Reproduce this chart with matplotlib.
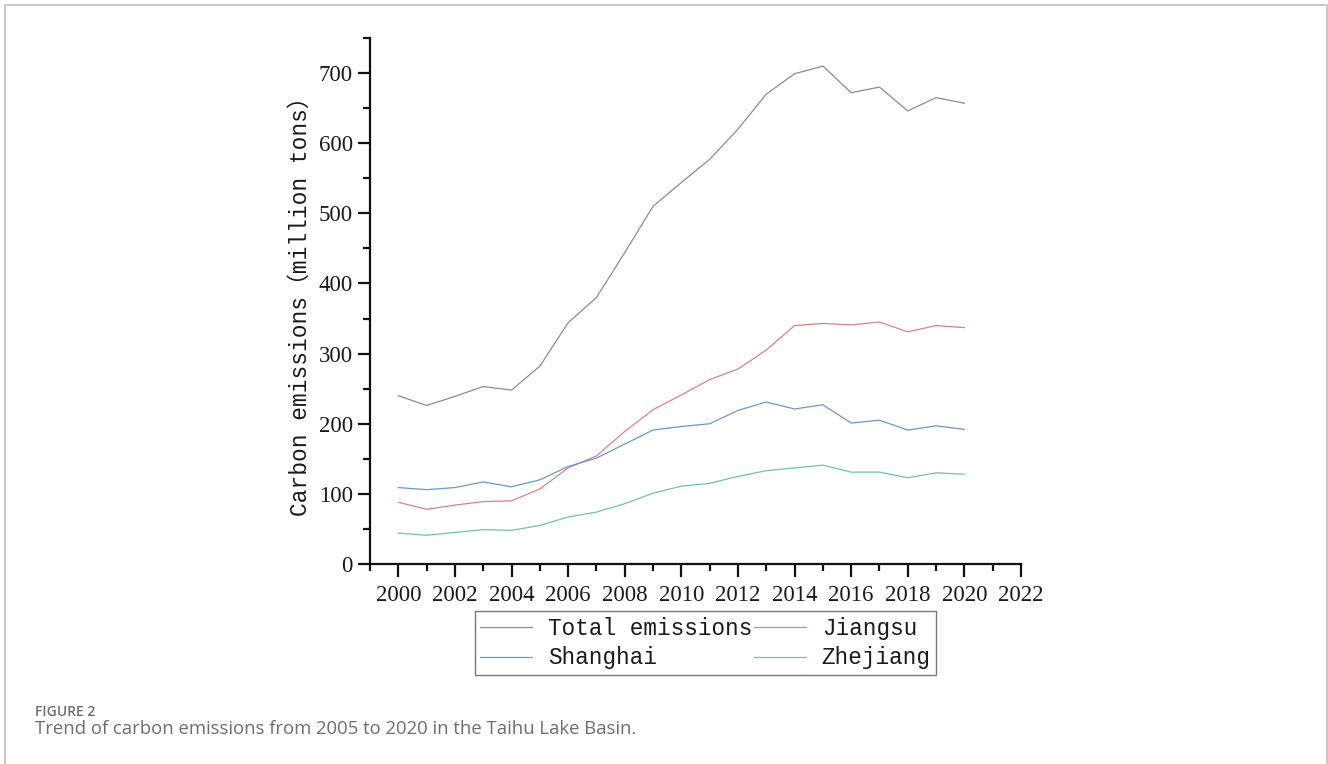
import numpy as np
import matplotlib.pyplot as plt
from matplotlib.ticker import MultipleLocator
from matplotlib.lines import Line2D

# carbon emissions of the Taihu Lake Basin, million tons
years = list(range(2000, 2021))
total    = [240, 226, 239, 253, 248, 282, 344, 380, 444, 510, 544, 577, 620, 670, 699, 710, 672, 680, 646, 665, 657]
jiangsu  = [88, 78, 84, 89, 90, 107, 137, 154, 189, 220, 241, 263, 278, 305, 340, 343, 341, 345, 331, 340, 337]
shanghai = [109, 106, 109, 117, 110, 120, 139, 151, 171, 191, 196, 200, 219, 231, 221, 227, 201, 205, 191, 197, 192]
zhejiang = [44, 41, 45, 49, 48, 55, 67, 74, 86, 101, 111, 115, 125, 133, 137, 141, 131, 131, 123, 130, 128]

names  = ["Total emissions", "Jiangsu", "Shanghai", "Zhejiang"]
series = [total, jiangsu, shanghai, zhejiang]
colors = ["#8c8c8c", "#d9828a", "#6898d3", "#72c3a2"]

mono  = ["Liberation Mono", "Noto Sans CJK SC"]
serif = "Liberation Serif"

fig = plt.figure(figsize=(13.28, 7.64), dpi=100)
ax = fig.add_axes([370/1328, 1-564/764, 651/1328, 526/764])

lines = []
for name, vals, col in zip(names, series, colors):
    ln, = ax.plot(years, vals, color=col, lw=0.9, label=name)
    lines.append(ln)

ax.set_xlim(1999, 2022)
ax.set_ylim(0, 750)
ax.xaxis.set_major_locator(MultipleLocator(2))
ax.xaxis.set_minor_locator(MultipleLocator(1))
ax.yaxis.set_major_locator(MultipleLocator(100))
ax.yaxis.set_minor_locator(MultipleLocator(50))

for side in ["top", "right"]:
    ax.spines[side].set_visible(False)
for side in ["left", "bottom"]:
    ax.spines[side].set_linewidth(1.6)
    ax.spines[side].set_color("#111111")

ax.tick_params(which="major", direction="out", length=9, width=1.6, colors="#111111", labelsize=16.5)
ax.tick_params(which="minor", direction="out", length=5, width=1.6, colors="#111111")
for lab in ax.get_xticklabels() + ax.get_yticklabels():
    lab.set_fontfamily(serif)
    lab.set_color("#1a1a1a")
ax.tick_params(axis="x", pad=6)

ax.set_ylabel("Carbon emissions（million tons）", family=mono, fontsize=16.5, color="#1a1a1a", labelpad=5)

# legend filled row by row: total, jiangsu / shanghai, zhejiang
order = [0, 2, 1, 3]
leg = fig.legend([lines[i] for i in order], [names[i] for i in order],
                 loc="upper center", bbox_to_anchor=(705.5/1328, 1-611/764), ncol=2,
                 prop={"family": mono, "size": 16.3}, frameon=True, fancybox=False,
                 edgecolor="#555555", handlelength=2.3, handletextpad=0.7,
                 columnspacing=0.05, borderpad=0.25, labelspacing=0.3, borderaxespad=0)
leg.get_frame().set_linewidth(1.0)
for t in leg.get_texts():
    t.set_color("#1a1a1a")

# caption below the chart
fig.text(35/1328, 1-712/764, "FIGURE 2", family="Open Sans", fontsize=10, fontweight="semibold",
         color="#6e6e6e", va="center")
fig.text(35/1328, 1-729/764, "Trend of carbon emissions from 2005 to 2020 in the Taihu Lake Basin.",
         family="Open Sans", fontsize=13.35, color="#6e6e6e", va="center")

# light page border, open at the bottom
bx = [4.5/1328, 4.5/1328, 1326.5/1328, 1326.5/1328]
by = [0, 1-4.5/764, 1-4.5/764, 0]
fig.add_artist(Line2D(bx, by, transform=fig.transFigure, color="#c8c8c8", lw=1.4))

fig.savefig("out.png", dpi=100)
